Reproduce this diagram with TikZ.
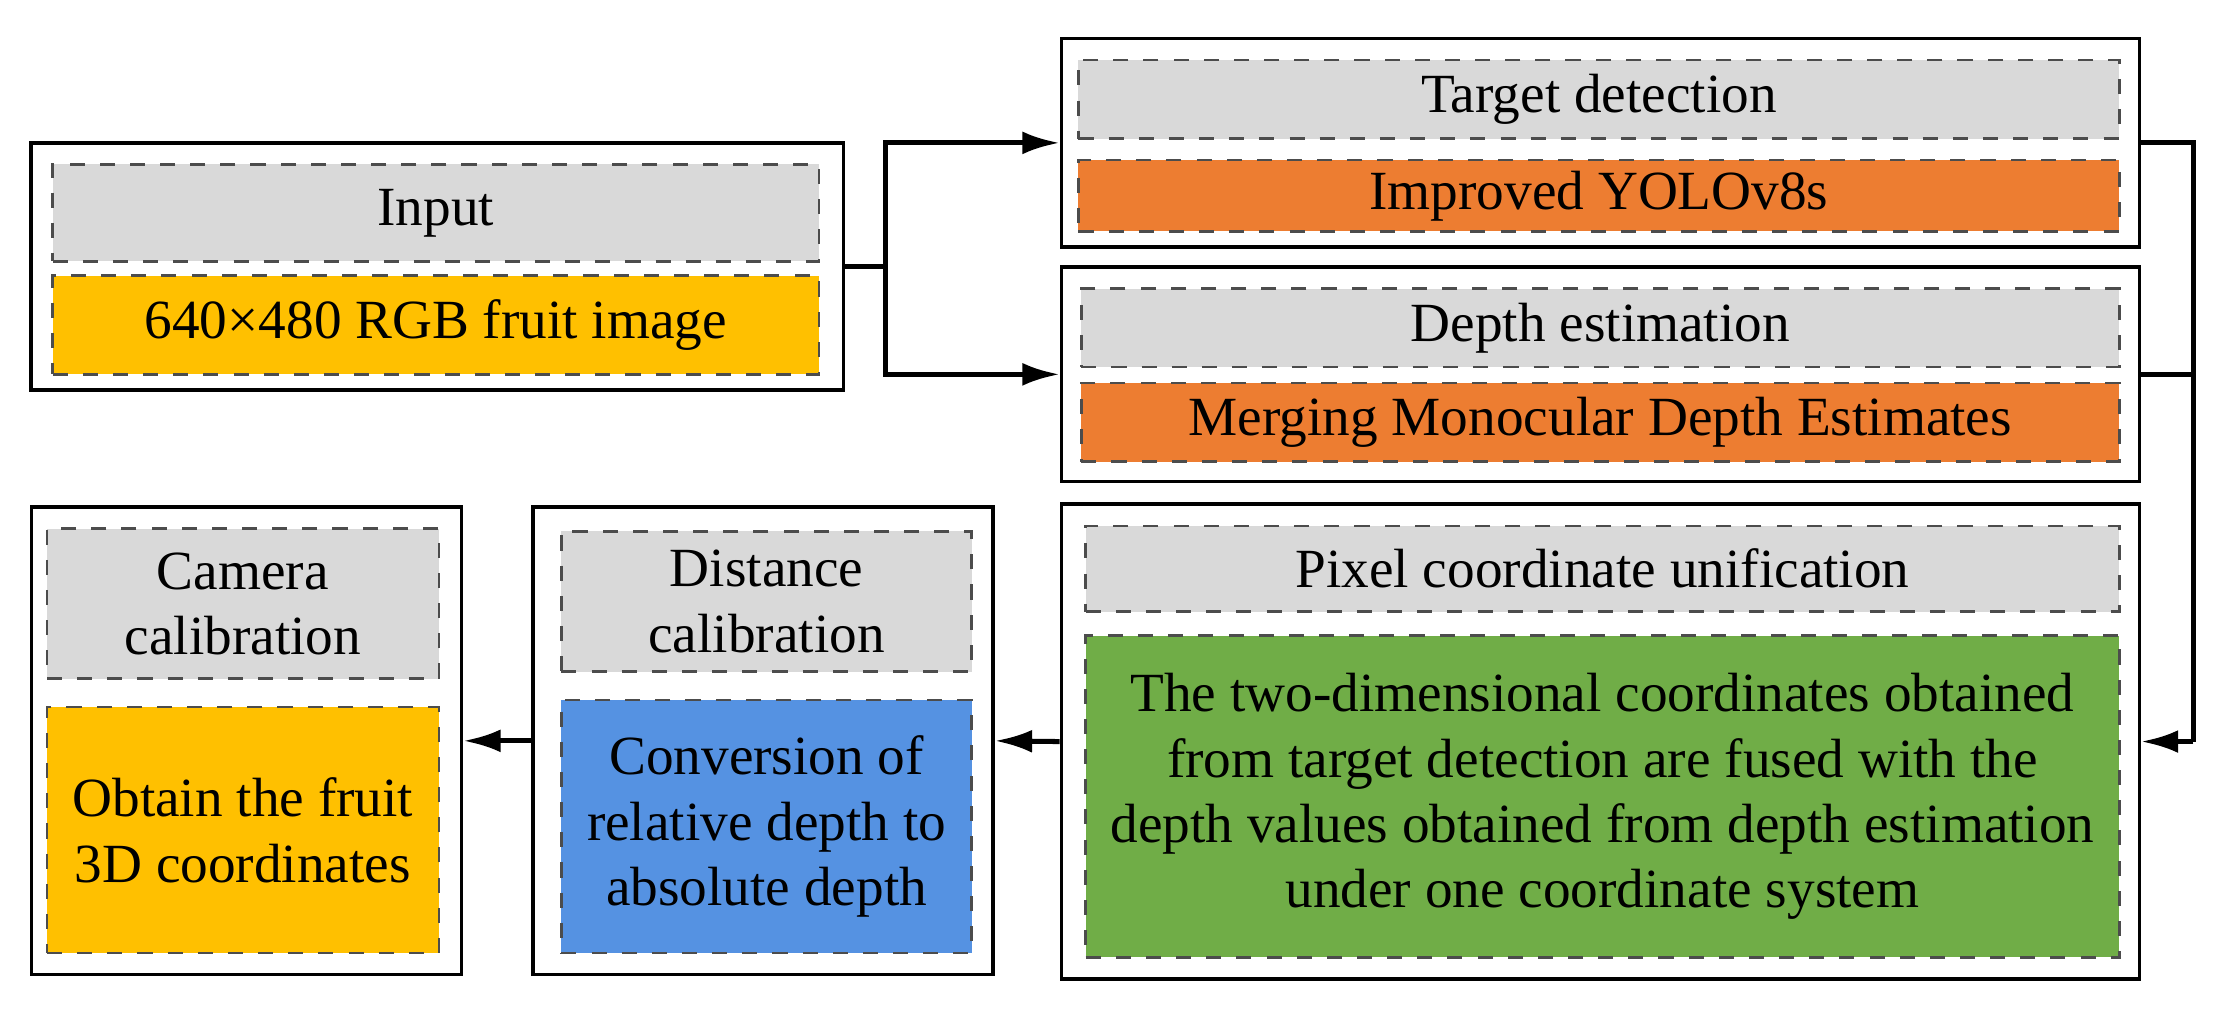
\documentclass[tikz,border=0pt]{standalone}
\usepackage{fontspec}
\setmainfont{Liberation Serif}
\usetikzlibrary{arrows.meta}
\definecolor{headgray}{HTML}{D9D9D9}
\definecolor{fruityellow}{HTML}{FFC000}
\definecolor{netorange}{HTML}{ED7D31}
\definecolor{fusegreen}{HTML}{70AD47}
\definecolor{calblue}{HTML}{5592E2}
\tikzset{
  outer/.style={draw=black, line width=0.7pt, inner sep=0pt},
  inner/.style={draw=black!70, dashed, line width=0.5pt, align=center,
    inner sep=0pt, font=\fontsize{11}{13}\selectfont},
  link/.style={line width=1pt, -{Latex[length=2.6mm,width=1.6mm]}},
}
\begin{document}
\begin{tikzpicture}[x=0.01cm,y=-0.01cm]
  \useasboundingbox (0,0) rectangle (1560,707);
  % input
  \node[outer, minimum width=5.68cm, minimum height=1.73cm] (in) at (306,186.5) {};
  \node[inner, fill=headgray, minimum width=5.36cm, minimum height=0.68cm] (inhead) at (305,149) {Input};
  \node[inner, fill=fruityellow, minimum width=5.36cm, minimum height=0.69cm] (inbody) at (305,227.5) {640×480 RGB fruit image};
  % target detection
  \node[outer, minimum width=7.54cm, minimum height=1.46cm] (det) at (1120,100) {};
  \node[inner, fill=headgray, minimum width=7.28cm, minimum height=0.55cm] (dethead) at (1119,69.5) {Target detection};
  \node[inner, fill=netorange, minimum width=7.28cm, minimum height=0.50cm] (detbody) at (1119,137) {Improved YOLOv8s};
  % depth estimation
  \node[outer, minimum width=7.54cm, minimum height=1.50cm] (dep) at (1120,262) {};
  \node[inner, fill=headgray, minimum width=7.26cm, minimum height=0.55cm] (dephead) at (1120,229.5) {Depth estimation};
  \node[inner, fill=netorange, minimum width=7.26cm, minimum height=0.55cm] (depbody) at (1120,295.5) {Merging Monocular Depth Estimates};
  % pixel coordinate unification
  \node[outer, minimum width=7.54cm, minimum height=3.32cm] (pix) at (1120,519) {};
  \node[inner, fill=headgray, minimum width=7.23cm, minimum height=0.60cm] (pixhead) at (1121.5,398) {Pixel coordinate unification};
  \node[inner, fill=fusegreen, minimum width=7.23cm, minimum height=2.25cm] (pixbody) at (1121.5,557.5)
    {The two-dimensional coordinates obtained\\from target detection are fused with the\\depth values obtained from depth estimation\\under one coordinate system};
  % distance calibration
  \node[outer, minimum width=3.22cm, minimum height=3.27cm] (dist) at (534,518.5) {};
  \node[inner, fill=headgray, minimum width=2.87cm, minimum height=0.98cm] (disthead) at (536.5,421) {Distance\\calibration};
  \node[inner, fill=calblue, minimum width=2.87cm, minimum height=1.77cm] (distbody) at (536.5,578.5) {Conversion of\\relative depth to\\absolute depth};
  % camera calibration
  \node[outer, minimum width=3.01cm, minimum height=3.27cm] (cam) at (172.5,518.5) {};
  \node[inner, fill=headgray, minimum width=2.74cm, minimum height=1.05cm] (camhead) at (170,422.5) {Camera\\calibration};
  \node[inner, fill=fruityellow, minimum width=2.74cm, minimum height=1.72cm] (cambody) at (170,581) {Obtain the fruit\\3D coordinates};
  % connectors
  \coordinate (split) at (620,186.5);
  \coordinate (join) at (1535,100);
  \draw[line width=1pt] (in.east) -- (split);
  \draw[link] (split) |- (det.west);
  \draw[link] (split) |- (dep.west);
  \draw[line width=1pt] (det.east) -- (join) -- (join |- pix.east);
  \draw[line width=1pt] (dep.east) -- (join |- dep.east);
  \draw[link] (join |- pix.east) -- (pix.east);
  \draw[link] (pix.west) -- (dist.east);
  \draw[link] (dist.west) -- (cam.east);
\end{tikzpicture}
\end{document}
